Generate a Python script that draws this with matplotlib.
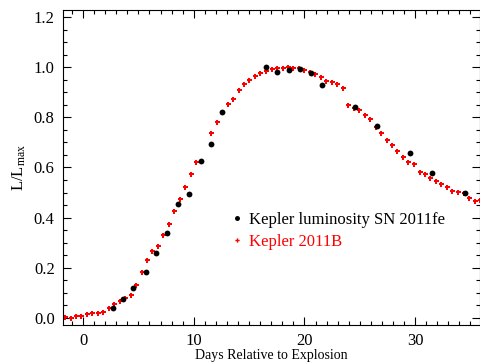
import matplotlib
matplotlib.use("Agg")
import matplotlib.pyplot as plt
from matplotlib.ticker import MultipleLocator, FormatStrFormatter

plt.rcParams['font.family'] = ['Liberation Serif', 'DejaVu Serif']
plt.rcParams['mathtext.fontset'] = 'custom'
plt.rcParams['mathtext.rm'] = 'Liberation Serif'
plt.rcParams['mathtext.it'] = 'Liberation Serif:italic'

# SN 2011fe (black)
sn_days = [2.68, 3.59, 4.55, 5.66, 6.56, 7.56, 8.55, 9.58, 10.66, 11.55, 12.56,
           16.56, 17.55, 18.58, 19.57, 20.57, 21.56, 24.57, 26.56, 29.57, 31.55, 34.54]
sn_lum = [0.039, 0.075, 0.118, 0.183, 0.26, 0.34, 0.453, 0.494, 0.624, 0.694, 0.822,
          1.001, 0.979, 0.987, 0.992, 0.977, 0.927, 0.841, 0.764, 0.659, 0.578, 0.497]

# Kepler 2011B (red)
k_days = [-1.64, -1.13, -0.63, -0.15, 0.35, 0.84, 1.35, 1.84, 2.34, 2.83, 3.33, 3.82,
          4.31, 4.80, 5.30, 5.77, 6.26, 6.78, 7.26, 7.76, 8.25, 8.75, 9.25, 9.74, 10.22,
          11.57, 12.07, 12.57, 13.07, 13.55, 14.05, 14.54, 15.03, 15.54, 16.02, 16.53,
          17.03, 17.52, 18.03, 18.52, 19.0, 19.51, 20.0, 20.51, 20.99, 21.48, 21.99, 22.47,
          22.98, 23.45, 23.95, 24.45, 24.94, 25.45, 25.93, 26.44, 26.92, 27.43, 27.91,
          28.39, 28.89, 29.39, 29.88, 30.40, 30.89, 31.37, 31.89, 32.37, 32.88, 33.36,
          33.88, 34.39, 34.87, 35.38, 35.86]
k_lum = [0.004, 0.001, 0.008, 0.008, 0.017, 0.021, 0.020, 0.025, 0.041, 0.057, 0.067, 0.078,
         0.093, 0.130, 0.183, 0.231, 0.266, 0.287, 0.329, 0.376, 0.426, 0.474, 0.524, 0.573, 0.620,
         0.737, 0.781, 0.821, 0.852, 0.874, 0.908, 0.933, 0.948, 0.964, 0.976, 0.986,
         0.993, 0.996, 0.996, 1.001, 0.996, 0.997, 0.990, 0.982, 0.972, 0.961, 0.945, 0.942,
         0.931, 0.915, 0.850, 0.839, 0.830, 0.809, 0.793, 0.762, 0.736, 0.708, 0.688,
         0.664, 0.641, 0.621, 0.615, 0.582, 0.573, 0.560, 0.547, 0.533, 0.521, 0.507,
         0.501, 0.497, 0.477, 0.467, 0.470]

fig = plt.figure(figsize=(4.8, 3.62), dpi=100)
ax = fig.add_axes([63/480, 1 - 325/362, 1 - 63/480, (325 - 10)/362])

red, = ax.plot(k_days, k_lum, linestyle='none', marker='P', markersize=3.6,
               color='red', markeredgewidth=0, label='Kepler 2011B', zorder=2)
blk, = ax.plot(sn_days, sn_lum, linestyle='none', marker='o', markersize=4.2,
               color='black', markeredgewidth=0, label='Kepler luminosity SN 2011fe', zorder=3)

ax.set_xlim(-1.81, 35.86)
ax.set_ylim(-0.028, 1.228)
ax.xaxis.set_major_locator(MultipleLocator(10))
ax.xaxis.set_minor_locator(MultipleLocator(1))
ax.yaxis.set_major_locator(MultipleLocator(0.2))
ax.yaxis.set_minor_locator(MultipleLocator(0.05))
ax.yaxis.set_major_formatter(FormatStrFormatter('%.1f'))
ax.tick_params(which='both', direction='in', top=True, right=True, labelsize=12, width=0.8)
ax.tick_params(which='major', length=6, pad=6)
ax.tick_params(which='minor', length=3)
for s in ax.spines.values():
    s.set_linewidth(0.8)

ax.set_xlabel('Days Relative to Explosion', fontsize=10, labelpad=0)
ax.set_ylabel(r'L/L$_{\rm max}$', fontsize=12, labelpad=4)

leg = ax.legend([blk, red], [blk.get_label(), red.get_label()], loc='upper left',
                bbox_to_anchor=(0.39, 0.385), frameon=False, fontsize=12,
                handlelength=0.4, handletextpad=0.5, labelspacing=0.35,
                markerscale=0.85, borderpad=0)
leg.get_texts()[1].set_color('red')

fig.savefig('out.png', dpi=100)
